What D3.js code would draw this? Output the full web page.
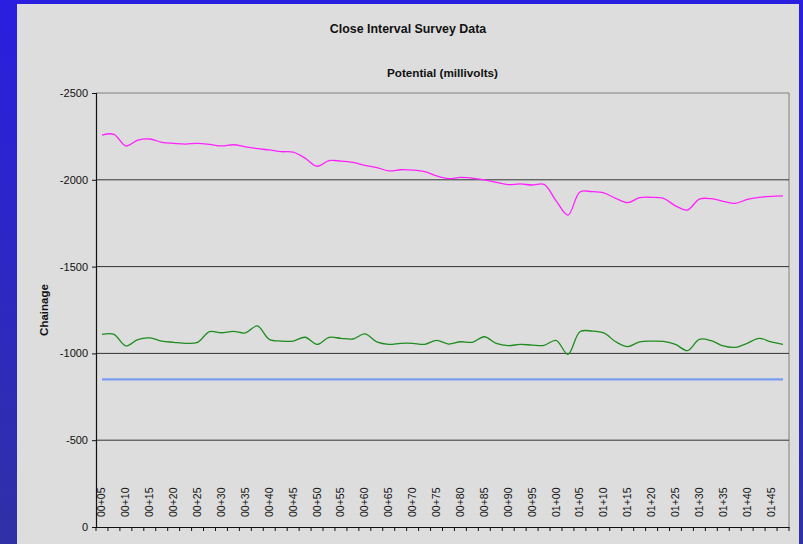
<!DOCTYPE html>
<html>
<head>
<meta charset="utf-8">
<script src="https://cdn.jsdelivr.net/npm/d3@7"></script>
<style>
  html, body { margin: 0; padding: 0; background: #2a22d8; }
  svg { display: block; font-family: "Liberation Sans", Arial, sans-serif; }
</style>
</head>
<body>
<svg id="chart" width="803" height="544"></svg>
<script>
// Chainage stations (every 2.5 units; every other one is labelled)
const chainage = [
  "00+05","00+07.5","00+10","00+12.5","00+15","00+17.5","00+20","00+22.5","00+25","00+27.5",
  "00+30","00+32.5","00+35","00+37.5","00+40","00+42.5","00+45","00+47.5","00+50","00+52.5",
  "00+55","00+57.5","00+60","00+62.5","00+65","00+67.5","00+70","00+72.5","00+75","00+77.5",
  "00+80","00+82.5","00+85","00+87.5","00+90","00+92.5","00+95","00+97.5","01+00","01+02.5",
  "01+05","01+07.5","01+10","01+12.5","01+15","01+17.5","01+20","01+22.5","01+25","01+27.5",
  "01+30","01+32.5","01+35","01+37.5","01+40","01+42.5","01+45","01+47.5"
];
const tickLabels = chainage.filter((d, i) => i % 2 === 0);

// "On" potential readings (mV)
const onPotential = [
  -2258,-2262,-2195,-2228,-2235,-2216,-2210,-2206,-2210,-2204,
  -2195,-2202,-2190,-2180,-2172,-2162,-2160,-2125,-2078,-2110,
  -2108,-2100,-2083,-2070,-2052,-2058,-2056,-2047,-2022,-2006,
  -2014,-2010,-1999,-1985,-1972,-1976,-1970,-1974,-1880,-1797,
  -1930,-1932,-1925,-1893,-1868,-1897,-1899,-1893,-1850,-1826,
  -1889,-1891,-1876,-1864,-1887,-1899,-1905,-1907
];
// "Off" (instant-off) potential readings (mV)
const offPotential = [
  -1110,-1110,-1043,-1080,-1089,-1071,-1064,-1058,-1064,-1125,
  -1119,-1127,-1118,-1158,-1081,-1071,-1071,-1093,-1052,-1092,
  -1087,-1083,-1112,-1066,-1052,-1058,-1058,-1052,-1075,-1054,
  -1067,-1064,-1096,-1058,-1045,-1052,-1048,-1046,-1075,-995,
  -1125,-1129,-1118,-1067,-1039,-1067,-1071,-1069,-1052,-1016,
  -1081,-1073,-1043,-1035,-1058,-1087,-1066,-1052
];
// Protection criterion (mV)
const criterion = chainage.map(() => -850);

const yTicks = [-2500, -2000, -1500, -1000, -500, 0];

const svg = d3.select("#chart");
const W = 803, H = 544;

// Blue backdrop with a soft vertical gradient
const defs = svg.append("defs");
const grad = defs.append("linearGradient").attr("id", "bg").attr("x1", 0).attr("y1", 0).attr("x2", 0).attr("y2", 1);
grad.append("stop").attr("offset", "0%").attr("stop-color", "#2a1fe0");
grad.append("stop").attr("offset", "100%").attr("stop-color", "#3030a6");
svg.append("rect").attr("width", W).attr("height", H).attr("fill", "url(#bg)");

// Chart panel
svg.append("rect").attr("x", 17).attr("y", 4).attr("width", 782).attr("height", H - 4).attr("fill", "#dddddd");

const plot = { left: 96, top: 93, right: 789, bottom: 527 };

const x = d3.scaleBand().domain(chainage).range([plot.left, plot.right]).padding(0);
const y = d3.scaleLinear().domain([0, -2500]).range([plot.bottom, plot.top]);

// Plot frame (top and right edges)
svg.append("path")
  .attr("d", `M${plot.left},${plot.top}H${plot.right}V${plot.bottom}`)
  .attr("fill", "none").attr("stroke", "#808080").attr("stroke-width", 1);

// Horizontal gridlines
svg.append("g").selectAll("line").data(yTicks.filter(t => t !== 0 && t !== -2500)).join("line")
  .attr("x1", plot.left).attr("x2", plot.right)
  .attr("y1", d => y(d)).attr("y2", d => y(d))
  .attr("stroke", "#333").attr("stroke-width", 1);

// Value axis (plain hyphen-minus in labels)
const yAxis = svg.append("g").attr("transform", `translate(${plot.left},0)`)
  .call(d3.axisLeft(y).tickValues(yTicks).tickSize(4).tickPadding(4).tickFormat(d => String(d)));
yAxis.select(".domain").attr("stroke", "#111").attr("stroke-width", 1.2);
yAxis.selectAll(".tick line").attr("stroke", "#111");
yAxis.selectAll("text").attr("font-size", 11).attr("fill", "#111")
  .attr("font-family", "'Liberation Sans', Arial, sans-serif");

// Category axis
const xAxis = svg.append("g").attr("transform", `translate(0,${plot.bottom})`)
  .call(d3.axisBottom(x).tickValues([]).tickSizeOuter(0));
xAxis.select(".domain").attr("stroke", "#111").attr("stroke-width", 1.2);
// tick marks at category boundaries
xAxis.selectAll("line.bound").data(d3.range(chainage.length + 1)).join("line")
  .attr("class", "bound")
  .attr("x1", i => plot.left + i * x.bandwidth()).attr("x2", i => plot.left + i * x.bandwidth())
  .attr("y1", 0).attr("y2", 4).attr("stroke", "#111");
// rotated station labels
svg.append("g").selectAll("text").data(tickLabels).join("text")
  .attr("transform", d => `translate(${x(d) + x.bandwidth() / 2 + 3.5},${plot.bottom - 10}) rotate(-90)`)
  .attr("font-size", 10.5).attr("fill", "#111")
  .text(d => d);

// Series lines
const line = d3.line()
  .x((d, i) => x(chainage[i]) + x.bandwidth() / 2)
  .y(d => y(d))
  .curve(d3.curveCatmullRom.alpha(0.5));

svg.append("path").datum(criterion).attr("d", line)
  .attr("fill", "none").attr("stroke", "#7b9cf0").attr("stroke-width", 2.2);
svg.append("path").datum(offPotential).attr("d", line)
  .attr("fill", "none").attr("stroke", "#1f8c1f").attr("stroke-width", 1.3);
svg.append("path").datum(onPotential).attr("d", line)
  .attr("fill", "none").attr("stroke", "#ff22ff").attr("stroke-width", 1.3);

// Titles
svg.append("text").attr("x", 408).attr("y", 33).attr("text-anchor", "middle")
  .attr("font-size", 12.4).attr("font-weight", "bold").attr("fill", "#111")
  .text("Close Interval Survey Data");
svg.append("text").attr("x", (plot.left + plot.right) / 2).attr("y", 77).attr("text-anchor", "middle")
  .attr("font-size", 11.7).attr("font-weight", "bold").attr("fill", "#111")
  .text("Potential (millivolts)");
svg.append("text").attr("transform", `translate(48,${(plot.top + plot.bottom) / 2}) rotate(-90)`)
  .attr("text-anchor", "middle")
  .attr("font-size", 11.5).attr("font-weight", "bold").attr("fill", "#111")
  .text("Chainage");
</script>
</body>
</html>
